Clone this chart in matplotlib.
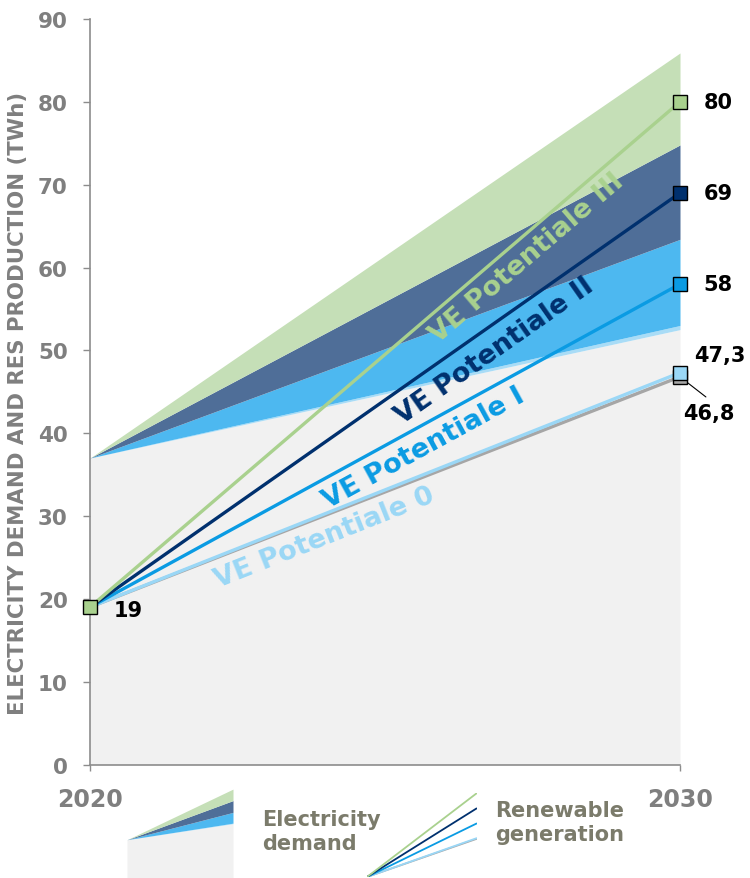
import numpy as np
import matplotlib.pyplot as plt

# Años extremos del escenario
years = [2020, 2030]

# Demanda eléctrica acumulada (TWh) para cada potencial de VE
demand_base = [37, 52.5]
demand_ve0 = [37, 53.0]
demand_ve1 = [37, 63.4]
demand_ve2 = [37, 74.8]
demand_ve3 = [37, 85.9]

# Generación renovable (TWh)
res_base = [19, 46.8]
res_ve0 = [19, 47.3]
res_ve1 = [19, 58]
res_ve2 = [19, 69]
res_ve3 = [19, 80]

value_labels = ["46,8", "47,3", "58", "69", "80"]
series_names = ["VE Potentiale 0", "VE Potentiale I", "VE Potentiale II", "VE Potentiale III"]
y_ticks = [0, 10, 20, 30, 40, 50, 60, 70, 80, 90]

# Colores
c_gray_area = "#f1f1f1"
c_area = ["#a9dcf6", "#4db8f0", "#4f6e98", "#c5dfb7"]
c_line = ["#9ad7f6", "#0a9be3", "#00306e", "#a9d18e"]
c_gray_line = "#a6a6a6"
c_tick = "#7f7f7f"
c_legend_txt = "#7b7b6b"


def draw_areas(ax):
    ax.fill_between(years, 0, demand_base, color=c_gray_area, lw=0)
    tops = [demand_base, demand_ve0, demand_ve1, demand_ve2, demand_ve3]
    for i in range(4):
        ax.fill_between(years, tops[i], tops[i + 1], color=c_area[i], lw=0)


def draw_lines(ax, lw):
    ax.plot(years, res_base, color=c_gray_line, lw=lw, solid_capstyle="butt")
    for i, serie in enumerate([res_ve0, res_ve1, res_ve2, res_ve3]):
        ax.plot(years, serie, color=c_line[i], lw=lw, solid_capstyle="butt")


fig = plt.figure(figsize=(7.5, 8.79), dpi=100)
ax = fig.add_axes([90 / 750, 1 - 765.5 / 879, 590 / 750, 745.5 / 879])

draw_areas(ax)
draw_lines(ax, 2.4)

ax.set_xlim(2020, 2030)
ax.set_ylim(0, 90)

# Etiquetas de cada potencial, giradas según la pendiente de su línea
fig.canvas.draw()
label_x = [2023.98, 2025.65, 2026.85, 2027.4]
label_gap = [2.8, 2.8, 3.3, 2.9]
for i, serie in enumerate([res_ve0, res_ve1, res_ve2, res_ve3]):
    p0 = ax.transData.transform((years[0], serie[0]))
    p1 = ax.transData.transform((years[1], serie[1]))
    ang = np.degrees(np.arctan2(p1[1] - p0[1], p1[0] - p0[0]))
    yl = np.interp(label_x[i], years, serie) - label_gap[i]
    ax.text(label_x[i], yl, series_names[i], color=c_line[i], fontsize=19.5,
            fontweight="bold", rotation=ang, rotation_mode="anchor",
            ha="center", va="center")

# Marcadores
mk = dict(marker="s", ms=10, mec="black", mew=1, ls="none", zorder=5,
          clip_on=False)
ax.plot(years[0], res_ve3[0], mfc="#a9d18e", **mk)
ax.plot(years[1], res_base[1], mfc=c_gray_line, **mk)
for i, serie in enumerate([res_ve0, res_ve1, res_ve2, res_ve3]):
    ax.plot(years[1], serie[1], mfc=c_line[i], **mk)

# Valores
vfont = dict(fontsize=15, fontweight="bold", color="black")
ax.annotate(str(res_ve3[0]), (years[0], res_ve3[0]), xytext=(17, -2),
            textcoords="offset points", ha="left", va="center", **vfont)
for serie, txt in zip([res_ve1, res_ve2, res_ve3], value_labels[2:]):
    ax.annotate(txt, (years[1], serie[1]), xytext=(17, 0),
                textcoords="offset points", ha="left", va="center",
                annotation_clip=False, **vfont)
ax.annotate(value_labels[1], (years[1], res_ve0[1]), xytext=(10, 13),
            textcoords="offset points", ha="left", va="center",
            annotation_clip=False, **vfont)
ax.annotate(value_labels[0], (years[1], res_base[1]), xytext=(2, -26),
            textcoords="offset points", ha="left", va="center",
            annotation_clip=False,
            arrowprops=dict(arrowstyle="-", color="black", lw=0.8,
                            shrinkA=0, shrinkB=0, relpos=(0.45, 1.3)),
            **vfont)

# Ejes
for s in ["top", "right"]:
    ax.spines[s].set_visible(False)
for s in ["left", "bottom"]:
    ax.spines[s].set_color("#8c8c8c")
    ax.spines[s].set_linewidth(1.2)
ax.set_yticks(y_ticks)
ax.set_xticks(years)
ax.tick_params(axis="y", colors="#8c8c8c", length=5, width=1, pad=11,
               labelsize=15.5, labelcolor=c_tick)
ax.tick_params(axis="x", colors="#8c8c8c", length=4, width=1, pad=12,
               labelsize=17, labelcolor=c_tick)
for lbl in ax.get_xticklabels() + ax.get_yticklabels():
    lbl.set_fontweight("bold")

fig.text(0.024, 1 - 403 / 879, "ELECTRICITY DEMAND AND RES PRODUCTION (TWh)",
         rotation=90, ha="center", va="center", fontsize=15.3,
         fontweight="bold", color=c_tick)

# Leyenda: áreas de demanda
lg1 = fig.add_axes([127 / 750, 0, 106 / 750, 89 / 879])
draw_areas(lg1)
lg1.set_xlim(2020, 2030)
lg1.set_ylim(0, 86)
lg1.axis("off")
fig.text(262 / 750, 1 - 832 / 879, "Electricity\ndemand", ha="left", va="center",
         fontsize=15, fontweight="bold", color=c_legend_txt, linespacing=1.2)

# Leyenda: líneas de generación
lg2 = fig.add_axes([367 / 750, 1 / 879, 110 / 750, 84 / 879])
draw_lines(lg2, 1.3)
lg2.set_xlim(2020, 2030)
lg2.set_ylim(19, 80)
lg2.axis("off")
fig.text(495 / 750, 1 - 823 / 879, "Renewable\ngeneration", ha="left", va="center",
         fontsize=15, fontweight="bold", color=c_legend_txt, linespacing=1.2)

plt.savefig("out.png", dpi=100)
